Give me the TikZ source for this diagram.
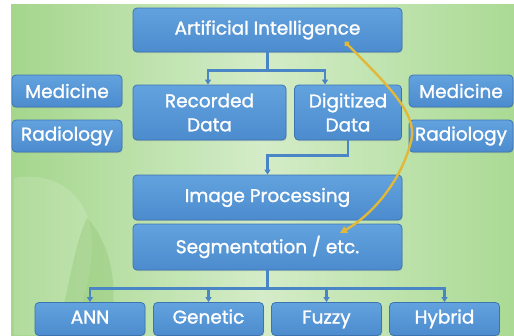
\documentclass[tikz,border=0pt]{standalone}
\usepackage{fontspec}
\setmainfont{Poppins}
\newfontfamily\boxfont{Poppins}[UprightFeatures={FakeBold=1.3}]
\usetikzlibrary{arrows.meta,shadows}

\definecolor{boxtop}{RGB}{98,162,222}
\definecolor{boxbot}{RGB}{76,140,206}
\definecolor{boxedge}{RGB}{60,116,178}
\definecolor{linkblue}{RGB}{74,134,198}
\definecolor{pathgold}{RGB}{226,184,58}
\definecolor{bgleft}{RGB}{164,214,140}
\definecolor{bgmid}{RGB}{212,236,200}
\definecolor{bgright}{RGB}{170,218,148}
\definecolor{leafdark}{RGB}{140,196,110}

\tikzset{
  box/.style={draw=boxedge, line width=0.8pt, top color=boxtop, bottom color=boxbot,
    rounded corners=4pt, text=white, align=center, inner sep=0pt,
    font=\boxfont\fontsize{18.5}{24}\selectfont,
    drop shadow={opacity=0.25, shadow xshift=0.6pt, shadow yshift=-1.2pt}},
  wide/.style={box, minimum width=269pt, minimum height=44pt},
  side/.style={box, minimum width=106pt, minimum height=32pt},
  leafbox/.style={box, minimum width=110pt, minimum height=33pt, text height=13pt, text depth=4pt},
  link/.style={draw=linkblue, line width=2.2pt},
  linktip/.style={-{Triangle[length=5pt,width=6pt]}}
}

\begin{document}
\begin{tikzpicture}[x=1pt, y=-1pt]
    % 1. Nền xanh lá
    \useasboundingbox (0,0) rectangle (514,335);
    \fill[white] (0,0) rectangle (514,335);
    \shade[left color=bgleft, right color=bgright, middle color=bgmid] (11,4) rectangle (514,335);
    \fill[white, opacity=0.15] (14,178) .. controls (60,170) and (95,200) .. (92,250)
        .. controls (90,290) and (75,320) .. (70,335) -- (14,335) -- cycle;
    \fill[leafdark, opacity=0.35] (87,218) .. controls (112,245) and (120,290) .. (108,335)
        -- (55,335) .. controls (68,300) and (72,250) .. (87,218);

    % 2. Các hộp
    \node[wide] (ai) at (267.5,30) {Artificial Intelligence};
    \node[side, minimum width=110pt] (medl) at (67,91) {Medicine};
    \node[side, minimum width=110pt] (radl) at (67,136) {Radiology};
    \node[box, minimum width=153pt, minimum height=55pt] (rec) at (209.5,112.5) {Recorded\\Data};
    \node[box, minimum width=107pt, minimum height=55pt] (dig) at (348,112.5) {Digitized\\Data};
    \node[side, minimum width=104pt] (medr) at (461,91) {Medicine};
    \node[side, minimum width=104pt] (radr) at (461,136) {Radiology};
    \node[wide, minimum height=45pt] (img) at (267.5,197.5) {Image Processing};
    \node[wide, minimum height=46pt] (seg) at (267.5,247) {Segmentation / etc.};

    \node[leafbox] (ann) at (90,319) {ANN};
    \node[leafbox] (gen) at (208.5,319) {Genetic};
    \node[leafbox] (fuz) at (326.5,319) {Fuzzy};
    \node[leafbox] (hyb) at (444.5,319) {Hybrid};

    % 3. Đường nối
    \draw[link] (ai.south) -- ++(0,18) coordinate (aisplit);
    \draw[link, linktip] (aisplit) -| ([xshift=-1.5pt]rec.north);
    \draw[link, linktip] (aisplit) -| ([xshift=-23pt]dig.north);
    \draw[link, linktip] (dig.south) -- ++(0,15) -| (img.north);
    \draw[link] (seg.south) -- ++(0,18) coordinate (segsplit);
    \foreach \b in {ann, gen, fuz, hyb}
        \draw[link, linktip] (segsplit) -| (\b.north);

    % 4. Đường cong màu vàng
    \coordinate (aipin) at ([xshift=77.5pt, yshift=-12pt]ai.center);
    \coordinate (segpin) at ([xshift=72.5pt, yshift=14pt]seg.center);
    \draw[pathgold, line width=2.4pt, {Circle[length=5pt]}-{Triangle[length=7pt,width=7pt]}]
        (aipin) .. controls (395,92) and (420,118) .. (410,145)
        .. controls (400,182) and (372,215) .. (segpin);
\end{tikzpicture}
\end{document}
